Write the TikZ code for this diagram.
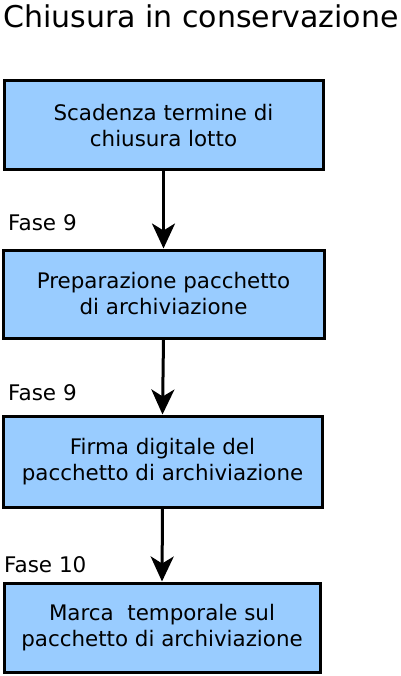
\documentclass[tikz,border=0pt]{standalone}
\usepackage{fontspec}
\setmainfont{DejaVu Sans}
\usetikzlibrary{arrows.meta}
\definecolor{boxblue}{RGB}{153,204,255}
\tikzset{
  stepbox/.style={draw=black, line width=3pt, fill=boxblue, rectangle, align=center,
    inner sep=0pt, font=\fontsize{21.4}{26}\selectfont},
  faselbl/.style={anchor=base west, inner sep=0pt, font=\fontsize{21.5}{24}\selectfont},
  arr/.style={line width=3pt, -{Stealth[length=25pt, width=23pt, inset=7pt]}}
}
\begin{document}
\begin{tikzpicture}[x=1pt, y=-1pt]
\useasboundingbox (0,0) rectangle (400,676);
\fill[white] (0,0) rectangle (400,676);
\node[anchor=base west, inner sep=0pt, font=\fontsize{30}{36}\selectfont] (title) at (3,28) {Chiusura in conservazione};
\node[stepbox, minimum width=319pt, minimum height=89pt] (b1) at (163.5,125.5) {Scadenza termine di\\chiusura lotto};
\node[stepbox, minimum width=321pt, minimum height=88pt] (b2) at (163.5,294) {Preparazione pacchetto\\di archiviazione};
\node[stepbox, minimum width=319pt, minimum height=91pt] (b3) at (162.5,461.5) {Firma digitale del\\pacchetto di archiviazione};
\node[stepbox, minimum width=316pt, minimum height=89pt] (b4) at (162,627.5) {Marca\ \ temporale sul\\pacchetto di archiviazione};
\node[faselbl] (f1) at (8,230.7) {Fase 9};
\node[faselbl] (f2) at (8,400.7) {Fase 9};
\node[faselbl] (f3) at (4,572) {Fase 10};
\draw[arr] (b1.south) -- (b2.north);
\draw[arr] (b2.south) -- (b3.north);
\draw[arr] (b3.south) -- (b4.north);
\end{tikzpicture}
\end{document}
